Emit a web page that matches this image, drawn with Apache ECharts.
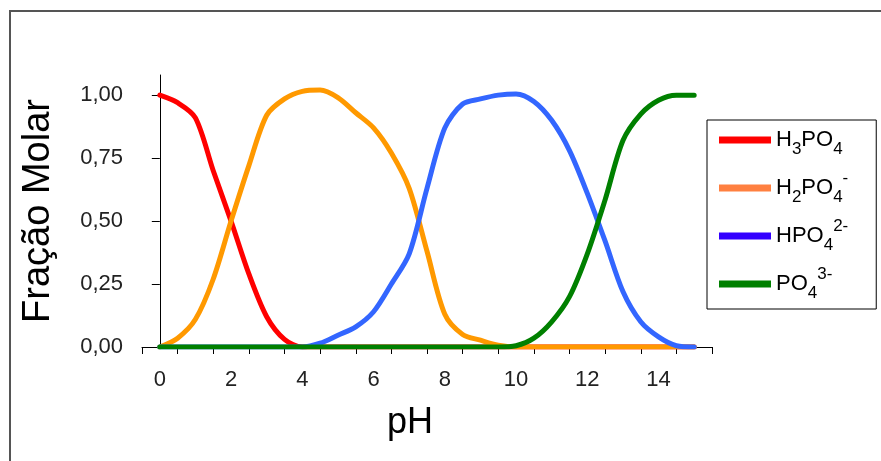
<!DOCTYPE html>
<html><head><meta charset="utf-8">
<script src="https://cdn.jsdelivr.net/npm/echarts@6/dist/echarts.min.js"></script>
<style>html,body{margin:0;padding:0;background:#fff}#c{width:881px;height:461px}</style>
</head><body><div id="c"></div>
<script>
// pH values (x)
const ph = [0,0.5,1,1.5,2,2.5,3,3.5,4,4.5,5,5.5,6,6.5,7,7.5,8,8.5,9,9.5,10,10.5,11,11.5,12,12.5,13,13.5,14,14.5,15];
// molar fractions
const h3po4 = [1.00,0.97,0.91,0.70,0.50,0.29,0.12,0.03,0.00,0,0,0,0,0,0,0,0,0,0,0,0,0,0,0,0,0,0,0,0,0,0];
const h2po4 = [0.00,0.035,0.11,0.27,0.50,0.72,0.92,0.985,1.015,1.02,0.99,0.93,0.87,0.77,0.63,0.38,0.13,0.05,0.027,0.007,0,0,0,0,0,0,0,0,0,0,0];
const hpo4  = [0,0,0,0,0,0,0,0,0,0.015,0.047,0.08,0.14,0.25,0.37,0.63,0.87,0.965,0.985,1.0,1.005,0.975,0.90,0.78,0.61,0.42,0.22,0.10,0.04,0.005,0];
const po4   = [0,0,0,0,0,0,0,0,0,0,0,0,0,0,0,0,0,0,0,0,0.005,0.035,0.10,0.20,0.37,0.585,0.82,0.925,0.98,1.0,1.0];
// axis ticks / labels
const xLabelValues = [0,2,4,6,8,10,12,14];
const xTickValues = [-0.5,0.5,1.5,2.5,3.5,4.5,5.5,6.5,7.5,8.5,9.5,10.5,11.5,12.5,13.5,14.5,15.5];
const yTickValues = [0,0.25,0.5,0.75,1];
const seriesNames = ['H3PO4','H2PO4-','HPO4 2-','PO4 3-'];
const legendText = {
  'H3PO4': '{n|H}{sub|3}{n|PO}{sub|4}',
  'H2PO4-': '{n|H}{sub|2}{n|PO}{sub|4}{sup|-}',
  'HPO4 2-': '{n|HPO}{sub|4}{sup|2-}',
  'PO4 3-': '{n|PO}{sub|4}{sup|3-}'
};
const lineColors = ['#FF0000','#FF9900','#3366FF','#008000'];
const legendColors = ['#FF0000','#FF8040','#3300FF','#008000'];

const FONT = 'Liberation Sans, Arial, sans-serif';
const pairs = arr => ph.map((x,i)=>[x, arr[i]]);
const allData = [h3po4,h2po4,hpo4,po4];

const chart = echarts.init(document.getElementById('c'), null, {renderer:'canvas'});
chart.setOption({
  animation:false,
  backgroundColor:'#fff',
  graphic:[{type:'rect', shape:{x:10,y:11,width:900,height:480}, style:{fill:'none', stroke:'#555', lineWidth:2}, silent:true}],
  grid:{left:142, right:169, top:75, bottom:114, containLabel:false},
  xAxis:{
    type:'value', min:-0.5, max:15.5,
    name:'pH', nameLocation:'middle', nameGap:58,
    nameTextStyle:{fontFamily:FONT, fontSize:36, color:'#000', padding:[0,34,0,0]},
    axisLine:{lineStyle:{color:'#000', width:1}},
    axisTick:{show:true, inside:false, length:7, lineStyle:{color:'#000'}, customValues:xTickValues},
    axisLabel:{fontFamily:FONT, fontSize:22, color:'#222', margin:22, customValues:xLabelValues},
    splitLine:{show:false}
  },
  yAxis:{
    type:'value', min:0, max:1.08,
    name:'Fração Molar', nameLocation:'middle', nameGap:84,
    nameTextStyle:{fontFamily:FONT, fontSize:38, color:'#000'},
    axisLine:{show:true, lineStyle:{color:'#000', width:1}},
    axisTick:{show:true, inside:false, length:8, lineStyle:{color:'#000'}, customValues:yTickValues},
    axisLabel:{fontFamily:FONT, fontSize:22, color:'#222', margin:19, customValues:yTickValues,
      formatter:v=>v.toFixed(2).replace('.',',')},
    splitLine:{show:false}
  },
  legend:{
    orient:'vertical', left:707, top:120,
    icon:'rect', itemWidth:52, itemHeight:7, itemGap:12,
    padding:[9,28,7,12], borderColor:'#000', borderWidth:1,
    data: seriesNames.map((n,i)=>({name:n, itemStyle:{color:legendColors[i]}})),
    formatter: n => legendText[n],
    textStyle:{fontFamily:FONT, color:'#000', rich:{
      n:{fontFamily:FONT, fontSize:22, lineHeight:36, verticalAlign:'middle', color:'#000'},
      sub:{fontFamily:FONT, fontSize:17, lineHeight:17, verticalAlign:'bottom', color:'#000'},
      sup:{fontFamily:FONT, fontSize:17, lineHeight:17, verticalAlign:'top', color:'#000'}
    }}
  },
  series: seriesNames.map((n,i)=>({
    name:n, type:'line', data:pairs(allData[i]), smooth:0.3,
    showSymbol:false, symbol:'none',
    lineStyle:{color:lineColors[i], width:5, cap:'round', join:'round'},
    itemStyle:{color:lineColors[i]}
  }))
});
</script></body></html>
